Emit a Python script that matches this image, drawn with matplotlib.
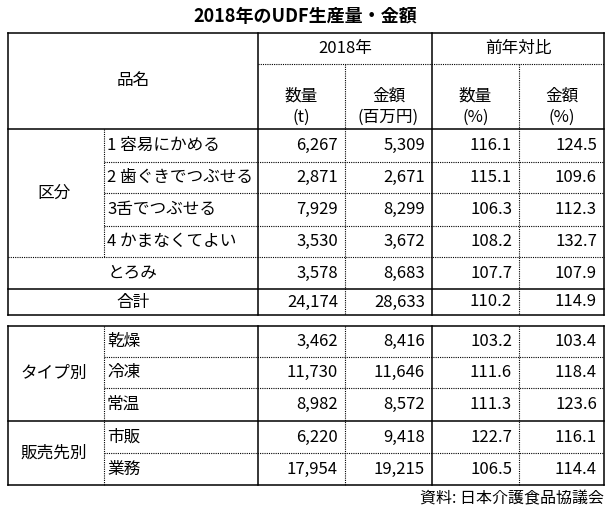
import matplotlib.pyplot as plt

plt.rcParams['font.family'] = 'Noto Sans CJK JP'

title = '2018年のUDF生産量・金額'
source = '資料: 日本介護食品協議会'

kubun_names = ['1 容易にかめる', '2 歯ぐきでつぶせる', '3舌でつぶせる', '4 かまなくてよい']
kubun_qty = ['6,267', '2,871', '7,929', '3,530']
kubun_amt = ['5,309', '2,671', '8,299', '3,672']
kubun_qty_pct = ['116.1', '115.1', '106.3', '108.2']
kubun_amt_pct = ['124.5', '109.6', '112.3', '132.7']

toromi = ['3,578', '8,683', '107.7', '107.9']
total = ['24,174', '28,633', '110.2', '114.9']

type_names = ['乾燥', '冷凍', '常温']
type_vals = [['3,462', '8,416', '103.2', '103.4'],
             ['11,730', '11,646', '111.6', '118.4'],
             ['8,982', '8,572', '111.3', '123.6']]

sales_names = ['市販', '業務']
sales_vals = [['6,220', '9,418', '122.7', '116.1'],
              ['17,954', '19,215', '106.5', '114.4']]

fig = plt.figure(figsize=(6.1, 5.15), dpi=100)
ax = fig.add_axes([0, 0, 1, 1])
ax.set_xlim(0, 610)
ax.set_ylim(515, 0)
ax.axis('off')

L, S, R = 8, 104, 604
cols = [258, 345, 432, 519, 604]
fs = 12


def hline(y, x0, x1, dotted=False):
    ax.plot([x0, x1], [y, y], color='black', lw=0.8 if dotted else 1.1,
            ls=(0, (1, 1)) if dotted else '-')


def vline(x, y0, y1, dotted=False):
    ax.plot([x, x], [y0, y1], color='black', lw=0.8 if dotted else 1.1,
            ls=(0, (1, 1)) if dotted else '-')


def row_vals(vals, yc):
    for i, v in enumerate(vals):
        ax.text(cols[i + 1] - 7, yc, v, ha='right', va='center', fontsize=fs)


ax.text(305, 17, title, ha='center', va='center', fontsize=13, fontweight='bold')

# upper block
top, hd, hb = 33, 64, 129
rows1 = [129, 162, 193, 226, 257, 289, 315]
hline(top, L, R)
hline(hd, 258, R, dotted=True)
hline(hb, L, R)
for y in rows1[1:4]:
    hline(y, S, R, dotted=True)
hline(rows1[4], L, R, dotted=True)
hline(rows1[5], L, R)
hline(rows1[6], L, R)
vline(L, top, rows1[6])
vline(R, top, rows1[6])
vline(258, top, rows1[6])
vline(432, top, rows1[6])
vline(345, hd, rows1[6], dotted=True)
vline(519, hd, rows1[6], dotted=True)
vline(S, hb, rows1[4], dotted=True)

ax.text(133, 80, '品名', ha='center', va='center', fontsize=fs)
ax.text(345, 48, '2018年', ha='center', va='center', fontsize=fs)
ax.text(518, 48, '前年対比', ha='center', va='center', fontsize=fs)
heads = [('数量', '(t)'), ('金額', '(百万円)'), ('数量', '(%)'), ('金額', '(%)')]
for i, (a, b) in enumerate(heads):
    xc = (cols[i] + cols[i + 1]) / 2
    ax.text(xc, 96, a, ha='center', va='center', fontsize=fs)
    ax.text(xc, 117, b, ha='center', va='center', fontsize=fs)

ax.text(54, 193, '区分', ha='center', va='center', fontsize=fs)
for i, name in enumerate(kubun_names):
    yc = (rows1[i] + rows1[i + 1]) / 2
    ax.text(107, yc, name, ha='left', va='center', fontsize=fs)
    row_vals([kubun_qty[i], kubun_amt[i], kubun_qty_pct[i], kubun_amt_pct[i]], yc)

yc = (rows1[4] + rows1[5]) / 2
ax.text(133, yc, 'とろみ', ha='center', va='center', fontsize=fs)
row_vals(toromi, yc)
yc = (rows1[5] + rows1[6]) / 2
ax.text(133, yc, '合計', ha='center', va='center', fontsize=fs)
row_vals(total, yc)

# lower block
rows2 = [326, 357, 388, 421, 453, 485]
hline(rows2[0], L, R)
hline(rows2[1], S, R, dotted=True)
hline(rows2[2], S, R, dotted=True)
hline(rows2[3], L, R)
hline(rows2[4], S, R, dotted=True)
hline(rows2[5], L, R)
vline(L, rows2[0], rows2[5])
vline(R, rows2[0], rows2[5])
vline(258, rows2[0], rows2[5])
vline(432, rows2[0], rows2[5])
vline(345, rows2[0], rows2[5], dotted=True)
vline(519, rows2[0], rows2[5], dotted=True)
vline(S, rows2[0], rows2[5], dotted=True)

ax.text(54, (rows2[0] + rows2[3]) / 2, 'タイプ別', ha='center', va='center', fontsize=fs)
for i, name in enumerate(type_names):
    yc = (rows2[i] + rows2[i + 1]) / 2
    ax.text(107, yc, name, ha='left', va='center', fontsize=fs)
    row_vals(type_vals[i], yc)

ax.text(54, (rows2[3] + rows2[5]) / 2, '販売先別', ha='center', va='center', fontsize=fs)
for i, name in enumerate(sales_names):
    yc = (rows2[i + 3] + rows2[i + 4]) / 2
    ax.text(107, yc, name, ha='left', va='center', fontsize=fs)
    row_vals(sales_vals[i], yc)

ax.text(604, 499, source, ha='right', va='center', fontsize=11.5)

fig.savefig('out.png', dpi=100)
